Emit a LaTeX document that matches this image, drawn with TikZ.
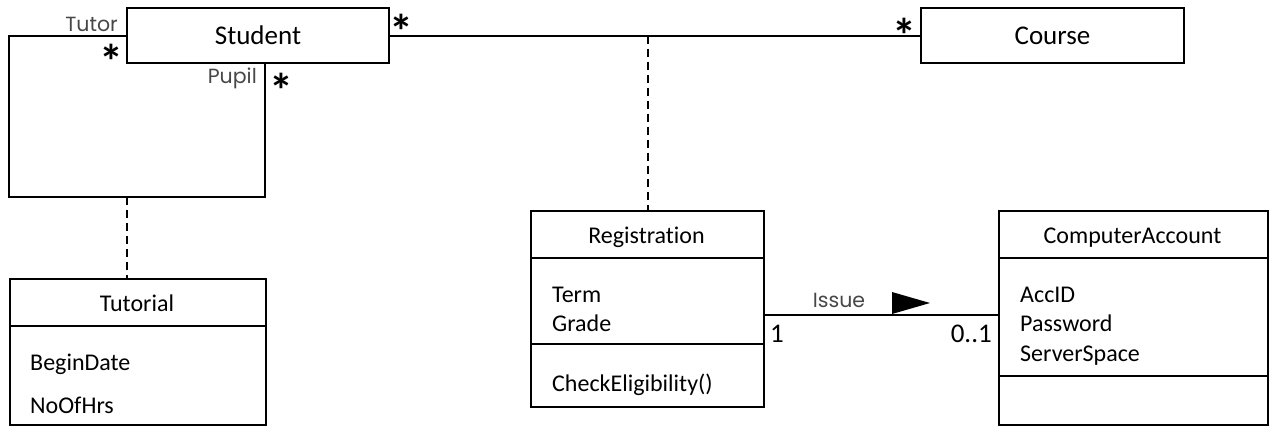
\documentclass[tikz,border=0pt]{standalone}
\usepackage{fontspec}
\setmainfont[Ligatures={NoCommon}]{Carlito}
\newfontfamily\rolefont{Poppins}
\usetikzlibrary{arrows.meta,positioning,calc}

\begin{document}
\begin{tikzpicture}[x=1pt, y=-1pt,
  cls/.style={draw, line width=2pt, anchor=north west, inner sep=0pt},
  big/.style={font=\fontsize{27}{31}\selectfont},
  txt/.style={font=\fontsize{24}{28}\selectfont, inner sep=0pt, anchor=base},
  attr/.style={txt, anchor=base west},
  role/.style={font=\rolefont\fontsize{20.5}{24}\selectfont, text=black!72, inner sep=0pt},
  star/.style={font=\fontsize{48}{52}\selectfont\bfseries, inner sep=0pt, yshift=-10pt},
  ln/.style={line width=2pt},
  dsh/.style={line width=2pt, dash pattern=on 8pt off 5pt}]
\useasboundingbox (0,0) rectangle (1269,426);
\node[cls, minimum width=262pt, minimum height=55pt, big] (Student) at (126,7) {Student};
\node[cls, minimum width=263pt, minimum height=55pt, big] (Course) at (920,7) {Course};
\node[cls, minimum width=256pt, minimum height=146pt] (Tutorial) at (9,278) {};
\node[cls, minimum width=233pt, minimum height=196pt] (Registration) at (530,210) {};
\node[cls, minimum width=269pt, minimum height=214pt] (ComputerAccount) at (998,210) {};
\draw[ln] ([yshift=-48pt]Tutorial.north west) -- ([yshift=-48pt]Tutorial.north east);
\draw[ln] ([yshift=-48pt]Registration.north west) -- ([yshift=-48pt]Registration.north east);
\draw[ln] ([yshift=-134pt]Registration.north west) -- ([yshift=-134pt]Registration.north east);
\draw[ln] ([yshift=-48pt]ComputerAccount.north west) -- ([yshift=-48pt]ComputerAccount.north east);
\draw[ln] ([yshift=-166pt]ComputerAccount.north west) -- ([yshift=-166pt]ComputerAccount.north east);
\node[txt] (tutName) at (137,311) {Tutorial};
\node[attr] (tutBegin) at (30,370) {BeginDate};
\node[attr] (tutHrs) at (30,413) {NoOfHrs};
\node[txt] (regName) at (646.5,243) {Registration};
\node[attr] (regTerm) at (552,302) {Term};
\node[attr] (regGrade) at (552,331) {Grade};
\node[attr] (regCheck) at (552,391) {CheckEligibility()};
\node[txt] (accName) at (1132.5,243) {ComputerAccount};
\node[attr] (accId) at (1020,302) {AccID};
\node[attr] (accPwd) at (1020,331) {Password};
\node[attr] (accSpace) at (1020,361) {ServerSpace};
\coordinate (loopL) at (9,197);
\coordinate (loopR) at (265,197);
\coordinate (tutLink) at (127,197);
\draw[ln] (Student.west) -| (loopL) -- (loopR) -- (loopR |- Student.south);
\draw[dsh] (tutLink) -- (tutLink |- Tutorial.north);
\draw[ln] (Student.east) -- (Course.west);
\coordinate (regLink) at (Registration.north |- Student.east);
\draw[dsh] (regLink) -- (Registration.north);
\coordinate (issueL) at ([yshift=-6pt]Registration.east);
\draw[ln] (issueL) -- (issueL -| ComputerAccount.west);
\fill (892,292) -- (930,303) -- (892,314) -- cycle;
\node[role, anchor=base east] (tutorRole) at (118,31) {Tutor};
\node[role, anchor=base east] (pupilRole) at (257,83) {Pupil};
\node[role, anchor=base] (issueLbl) at (839,307) {Issue};
\node[star] (starTutor) at (111,51) {*};
\node[star] (starPupil) at (281.5,80) {*};
\node[star] (starStu) at (401,21) {*};
\node[star] (starCourse) at (904,25) {*};
\node[txt, big, anchor=base west] (multOne) at (770,342) {1};
\node[txt, big, anchor=base east] (multZero) at (992,342) {0..1};
\end{tikzpicture}
\end{document}
